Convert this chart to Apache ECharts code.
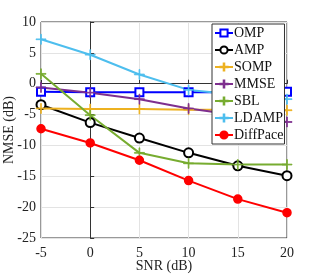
<!DOCTYPE html>
<html><head><meta charset="utf-8">
<script src="https://cdn.jsdelivr.net/npm/echarts@6/dist/echarts.min.js"></script>
<style>html,body{margin:0;padding:0;background:#fff}#c{width:317px;height:275px}</style>
</head><body><div id="c"></div>
<script>
const snr = [-5, 0, 5, 10, 15, 20];
const omp = [-1.3, -1.4, -1.4, -1.4, -1.4, -1.3];
const amp = [-3.4, -6.3, -8.8, -11.2, -13.3, -14.9];
const somp = [-4.0, -4.1, -4.1, -4.2, -4.2, -4.3];
const mmse = [-0.6, -1.45, -2.5, -4.0, -5.1, -6.2];
const sbl = [1.6, -5.1, -11.2, -12.9, -13.1, -13.1];
const ldamp = [7.2, 4.7, 1.5, -1.0, -1.8, -2.5];
const diffpace = [-7.3, -9.6, -12.4, -15.7, -18.7, -20.9];
const yTicks = [-25, -20, -15, -10, -5, 0, 5, 10];

const plus = 'path://M4.6,0h0.8v4.6h4.6v0.8h-4.6v4.6h-0.8v-4.6h-4.6v-0.8h4.6z';
const font = 'Liberation Serif';
function mk(name, data, color, symbol, size, bw) {
  return {
    name, type: 'line', data: snr.map((x, i) => [x, data[i]]),
    symbol, symbolSize: size,
    lineStyle: { color, width: 2 },
    itemStyle: { color, borderColor: color, borderWidth: bw },
    animation: false
  };
}
const chart = echarts.init(document.getElementById('c'));
chart.setOption({
  animation: false,
  textStyle: { fontFamily: font },
  grid: { left: 41, right: 30, top: 22, bottom: 37, show: true, borderColor: '#333', borderWidth: 1,
    containLabel: false, outerBoundsMode: 'none' },
  xAxis: {
    type: 'value', min: -5, max: 20, interval: 5,
    name: 'SNR (dB)', nameLocation: 'middle', nameGap: 21, nameMoveOverlap: false,
    nameTextStyle: { color: '#222', fontSize: 14, fontFamily: font },
    axisLine: { lineStyle: { color: '#333' } },
    axisTick: { inside: true, length: 4, lineStyle: { color: '#333' } },
    axisLabel: { color: '#222', fontSize: 14, fontFamily: font, margin: 8 },
    splitLine: { show: true, lineStyle: { color: '#e3e3e3' } }
  },
  yAxis: {
    type: 'value', min: -25, max: 10, interval: 5,
    name: 'NMSE (dB)', nameLocation: 'middle', nameGap: 25, nameMoveOverlap: false,
    nameTextStyle: { color: '#222', fontSize: 14, fontFamily: font },
    axisLine: { lineStyle: { color: '#333' } },
    axisTick: { inside: true, length: 4, lineStyle: { color: '#333' } },
    axisLabel: { color: '#222', fontSize: 14, fontFamily: font, margin: 5,
      formatter: v => yTicks.includes(v) ? String(v) : '' },
    splitLine: { show: true, lineStyle: { color: '#e3e3e3' } }
  },
  legend: {
    left: 212, top: 24, orient: 'vertical',
    backgroundColor: '#fff', borderColor: '#333', borderWidth: 1, borderRadius: 0,
    padding: [2, 1, 2, 2], itemGap: 3, itemWidth: 18, itemHeight: 9,
    textStyle: { fontSize: 14, fontFamily: font, color: '#111', padding: [0, 0, 0, -4] },
    data: ['OMP', 'AMP', 'SOMP', 'MMSE', 'SBL', 'LDAMP', 'DiffPace']
  },
  series: [
    mk('OMP', omp, '#0000ff', 'emptyRect', 8, 1.5),
    mk('AMP', amp, '#000000', 'emptyCircle', 9, 1.5),
    mk('SOMP', somp, '#EDB120', plus, 10, 0.8),
    mk('MMSE', mmse, '#7E2F8E', plus, 10, 0.8),
    mk('SBL', sbl, '#77AC30', plus, 10, 0.8),
    mk('LDAMP', ldamp, '#4DBEEE', plus, 10, 0.8),
    mk('DiffPace', diffpace, '#ff0000', 'circle', 8, 1.5)
  ]
});
</script></body></html>
